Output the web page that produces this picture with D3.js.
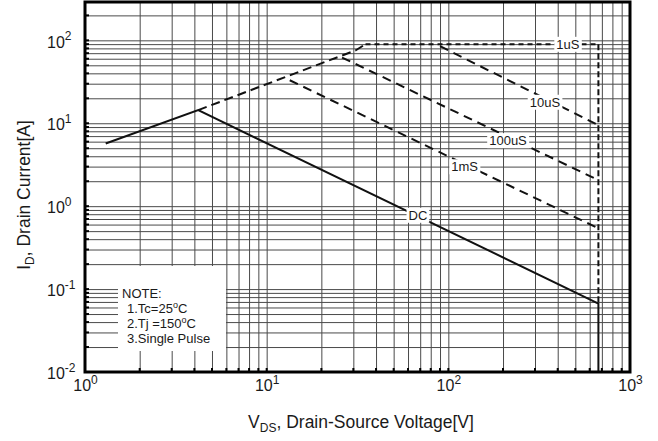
<!DOCTYPE html>
<html lang="en">
<head>
<meta charset="utf-8">
<title>Maximum Safe Operating Area</title>
<script src="https://d3js.org/d3.v7.min.js"></script>
<style>
  body { margin: 0; background: #fff; }
  text { font-family: "Liberation Sans", Arial, sans-serif; fill: #1a1a1a; }
</style>
</head>
<body>
<script>
// decade ticks
const xTicks = [1, 10, 100, 1000];
const yTicks = [0.01, 0.1, 1, 10, 100];

// DC limit (solid), ends in the breakdown voltage line
const dcV = [1.3, 4.2, 670, 670];
const dcI = [5.7, 14.4, 0.067, 0.01];

// Rds(on) limit, rising dashed part
const rdsV = [4.2, 31, 35];
const rdsI = [14.4, 76, 90];

// 1uS line (current limit) and vertical voltage limit
const us1V = [35, 670];
const us1I = [90, 90];
const bvV = [670, 670];
const bvI = [90, 0.067];

// pulse lines
const us10V = [90, 670];
const us10I = [85, 9.5];
const us100V = [26, 670];
const us100I = [62, 2.06];
const ms1V = [13.4, 670];
const ms1I = [33, 0.54];

// curve labels
const labelText = ["1uS", "10uS", "100uS", "1mS", "DC"];
const labelV = [455, 340, 213, 123, 68];
const labelI = [90, 18, 6.2, 3.0, 0.78];

const noteLines = ["NOTE:", "1.Tc=25°C", "2.Tj =150°C", "3.Single Pulse"];

const w = 658, h = 441;
const plot = {left: 85, right: 630, top: 2, bottom: 372};
const yMax = 290;

const svg = d3.select("body").append("svg")
  .attr("width", w).attr("height", h);

const x = d3.scaleLog().domain([1, 1000]).range([plot.left, plot.right]);
const y = d3.scaleLog().domain([0.01, yMax]).range([plot.bottom, plot.top]);

// grid values: 1..9 in every decade
const gridX = [];
[1, 10, 100].forEach(dec => d3.range(1, 10).forEach(k => gridX.push(k * dec)));
gridX.push(1000);
const gridY = [];
[0.01, 0.1, 1, 10, 100].forEach(dec => d3.range(1, 10).forEach(k => {
  if (k * dec <= yMax) gridY.push(k * dec);
}));

const gx = svg.append("g")
  .attr("transform", `translate(0,${plot.bottom})`)
  .call(d3.axisBottom(x).tickValues(gridX).tickSize(-(plot.bottom - plot.top)).tickFormat(""));
gx.select(".domain").remove();
gx.selectAll("line").attr("stroke", "#4a4a4a").attr("stroke-width", 1);

const gy = svg.append("g")
  .attr("transform", `translate(${plot.left},0)`)
  .call(d3.axisLeft(y).tickValues(gridY).tickSize(-(plot.right - plot.left)).tickFormat(""));
gy.select(".domain").remove();
gy.selectAll("line").attr("stroke", "#4a4a4a").attr("stroke-width", 1);

// white box behind the notes
svg.append("rect")
  .attr("x", 118).attr("y", 266).attr("width", 108).attr("height", 85)
  .attr("fill", "#fff");

const line = d3.line().x(d => x(d[0])).y(d => y(d[1]));
function drawCurve(vs, is, dash) {
  svg.append("path")
    .attr("d", line(d3.zip(vs, is)))
    .attr("fill", "none")
    .attr("stroke", "#111")
    .attr("stroke-width", 2)
    .attr("stroke-dasharray", dash);
}
drawCurve(dcV, dcI, null);
drawCurve(rdsV, rdsI, "9,5");
drawCurve(us1V, us1I, "5,4");
drawCurve(bvV, bvI, "6,3");
drawCurve(us10V, us10I, "9,6");
drawCurve(us100V, us100I, "9,6");
drawCurve(ms1V, ms1I, "9,6");

// curve labels with white background
labelText.forEach((t, i) => {
  const g = svg.append("g");
  const r = g.append("rect").attr("fill", "#fff");
  const txt = g.append("text")
    .attr("x", x(labelV[i])).attr("y", y(labelI[i]))
    .attr("dy", "0.36em")
    .attr("text-anchor", "middle")
    .attr("font-size", 13)
    .text(t);
  const b = txt.node().getBBox();
  r.attr("x", b.x - 2).attr("y", b.y).attr("width", b.width + 4).attr("height", b.height);
});

// notes
noteLines.forEach((t, i) => {
  const txt = svg.append("text")
    .attr("x", i === 0 ? 122 : 127)
    .attr("y", 298 + i * 15)
    .attr("font-size", 13);
  const parts = t.split("°");
  txt.append("tspan").text(parts[0]);
  if (parts.length > 1) {
    txt.append("tspan").attr("dy", -5).attr("font-size", 9).text("o");
    txt.append("tspan").attr("dy", 5).text(parts[1]);
  }
});

// frame
svg.append("rect")
  .attr("x", plot.left).attr("y", plot.top)
  .attr("width", plot.right - plot.left).attr("height", plot.bottom - plot.top)
  .attr("fill", "none").attr("stroke", "#000").attr("stroke-width", 3);

// short inner ticks on the left and bottom axes
svg.append("g").selectAll("line").data(gridY).join("line")
  .attr("x1", plot.left).attr("x2", plot.left + 4)
  .attr("y1", d => y(d)).attr("y2", d => y(d))
  .attr("stroke", "#000").attr("stroke-width", 2);
svg.append("g").selectAll("line").data(gridX).join("line")
  .attr("x1", d => x(d)).attr("x2", d => x(d))
  .attr("y1", plot.bottom).attr("y2", plot.bottom - 4)
  .attr("stroke", "#000").attr("stroke-width", 2);

// tick labels 10^n
const xLab = svg.append("g")
  .attr("transform", `translate(0,${plot.bottom})`)
  .call(d3.axisBottom(x).tickValues(xTicks).tickSize(0).tickPadding(8).tickFormat(() => "10"))
  .attr("font-family", null).attr("font-size", 16);
xLab.select(".domain").remove();
xLab.selectAll("text").attr("fill", "#1a1a1a")
  .append("tspan").attr("dy", "-0.6em").attr("font-size", 12)
  .text(d => Math.round(Math.log10(d)));

const yLab = svg.append("g")
  .attr("transform", `translate(${plot.left},0)`)
  .call(d3.axisLeft(y).tickValues(yTicks).tickSize(0).tickFormat(() => "10"))
  .attr("font-family", null).attr("font-size", 16);
yLab.select(".domain").remove();
yLab.selectAll("text").attr("fill", "#1a1a1a")
  .attr("text-anchor", "start").attr("x", -38).attr("dy", "0.42em")
  .append("tspan").attr("dy", "-0.6em").attr("font-size", 12)
  .text(d => Math.round(Math.log10(d)));

// axis titles
const xt = svg.append("text")
  .attr("x", 361).attr("y", 428)
  .attr("text-anchor", "middle").attr("font-size", 17.5);
xt.append("tspan").text("V");
xt.append("tspan").attr("dy", 4).attr("font-size", 12).text("DS");
xt.append("tspan").attr("dy", -4).text(", Drain-Source Voltage[V]");

const yt = svg.append("text")
  .attr("transform", "translate(30,195) rotate(-90)")
  .attr("text-anchor", "middle").attr("font-size", 17.5);
yt.append("tspan").text("I");
yt.append("tspan").attr("dy", 4).attr("font-size", 12).text("D");
yt.append("tspan").attr("dy", -4).text(", Drain Current[A]");
</script>
</body>
</html>
